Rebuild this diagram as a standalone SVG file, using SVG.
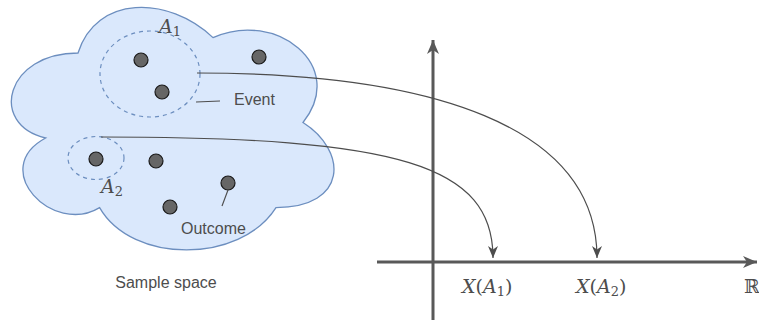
<svg xmlns="http://www.w3.org/2000/svg" width="759" height="320" viewBox="0 0 759 320">
<style>
.lbl{font-family:"Liberation Sans",Arial,sans-serif;font-size:16px;fill:#4d4d4d}
.math{font-family:"DejaVu Serif","Liberation Serif",serif;font-size:19px;fill:#4d4d4d}
.it{font-style:italic}
.sub{font-size:13px}
.dot{fill:#666666;stroke:#1a1a1a;stroke-width:1.2}
.ev{fill:none;stroke:#6c8ebf;stroke-width:1.2;stroke-dasharray:4 4}
.lead{fill:none;stroke:#4d4d4d;stroke-width:1.2}
.conn{fill:none;stroke:#4d4d4d;stroke-width:1.2}
.axis{fill:none;stroke:#595959;stroke-width:3}
</style>
<defs>
<marker id="arr" markerUnits="userSpaceOnUse" markerWidth="14" markerHeight="12" refX="12" refY="5" orient="auto" viewBox="0 0 14 10" overflow="visible">
<path d="M0,0 L12,5 L0,10 L3.5,5 Z" fill="#4d4d4d"/>
</marker>
<marker id="axarr" markerUnits="userSpaceOnUse" markerWidth="18" markerHeight="14" refX="14" refY="6" orient="auto" viewBox="0 0 18 12" overflow="visible">
<path d="M0,0 L14,6 L0,12 L4,6 Z" fill="#595959"/>
</marker>
</defs>
<g id="sample-space">
<path d="M78,53 C6,53 -12,124 45.6,138 C-12,169 52.8,236 99.6,207.6 C132,264 240,264 276,207.6 C348,207.6 348,151 303,122.5 C348,66 276,9.3 213,37.6 C168,-4.9 96,-4.9 78,53 Z" fill="#dae8fc" stroke="#6c8ebf" stroke-width="1.3"/>
<text class="lbl" x="166" y="288" text-anchor="middle">Sample space</text>
</g>
<g id="event-A1">
<ellipse class="ev" cx="150" cy="74" rx="50" ry="43"/>
<text class="math" x="159" y="33"><tspan class="it">A</tspan><tspan class="sub" dy="3">1</tspan></text>
</g>
<g id="event-A2">
<ellipse class="ev" cx="96" cy="158" rx="28" ry="21.5"/>
<text class="math" x="101" y="193"><tspan class="it">A</tspan><tspan class="sub" dy="3">2</tspan></text>
</g>
<g id="outcomes">
<circle class="dot" cx="141" cy="60" r="7"/>
<circle class="dot" cx="162" cy="92" r="7"/>
<circle class="dot" cx="259" cy="57" r="7"/>
<circle class="dot" cx="96" cy="159" r="7"/>
<circle class="dot" cx="156" cy="161" r="7"/>
<circle class="dot" cx="170" cy="207" r="7"/>
<circle class="dot" cx="228" cy="183" r="7"/>
</g>
<g id="event-label">
<path class="lead" d="M196,102 L220,101"/>
<text class="lbl" x="234" y="105">Event</text>
</g>
<g id="outcome-label">
<path class="lead" d="M228,190 L222,206"/>
<text class="lbl" x="181" y="234">Outcome</text>
</g>
<g id="axes">
<path class="axis" d="M433,320 L433,40" marker-end="url(#axarr)"/>
<path class="axis" d="M377,262 L757,262" marker-end="url(#axarr)"/>
<text class="math" x="462" y="293"><tspan class="it">X</tspan>(<tspan class="it">A</tspan><tspan class="sub" dy="3">1</tspan><tspan dy="-3">)</tspan></text>
<text class="math" x="576" y="293"><tspan class="it">X</tspan>(<tspan class="it">A</tspan><tspan class="sub" dy="3">2</tspan><tspan dy="-3">)</tspan></text>
<text class="math" x="744" y="293" font-size="17">ℝ</text>
</g>
<g id="connectors">
<path class="conn" d="M197,73 C430,73 597,125 597,258" marker-end="url(#arr)"/>
<path class="conn" d="M101,137 C400,137 493,165 493,258" marker-end="url(#arr)"/>
</g>
</svg>
